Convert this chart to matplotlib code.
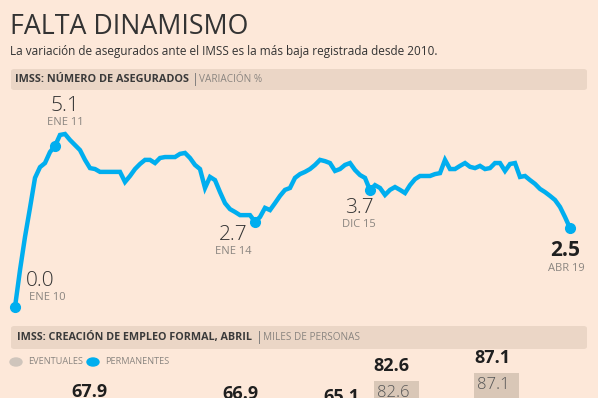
import numpy as np
import matplotlib.pyplot as plt
from matplotlib.patches import FancyBboxPatch

# variación anual de asegurados IMSS, ene 2010 - abr 2019 (%)
asegurados = [
    0.0, 1.17, 2.22, 3.14, 4.09, 4.43, 4.56, 4.91, 5.1, 5.45,
    5.48, 5.29, 5.13, 4.97, 4.66, 4.40, 4.37, 4.28, 4.28, 4.28,
    4.28, 4.28, 3.96, 4.15, 4.37, 4.53, 4.66, 4.66, 4.56, 4.72,
    4.75, 4.75, 4.75, 4.85, 4.88, 4.72, 4.50, 4.37, 3.77, 4.12,
    4.02, 3.64, 3.29, 3.10, 3.01, 2.91, 2.91, 2.91, 2.7, 2.85,
    3.14, 3.07, 3.29, 3.52, 3.71, 3.77, 4.09, 4.21, 4.28, 4.37,
    4.50, 4.66, 4.62, 4.56, 4.31, 4.37, 4.50, 4.56, 4.34, 4.18,
    4.09, 3.7, 3.86, 3.77, 3.55, 3.71, 3.80, 3.71, 3.61, 3.86,
    4.05, 4.15, 4.15, 4.15, 4.21, 4.24, 4.66, 4.37, 4.37, 4.47,
    4.56, 4.44, 4.40, 4.47, 4.37, 4.40, 4.56, 4.56, 4.31, 4.53,
    4.56, 4.12, 4.15, 4.02, 3.90, 3.74, 3.64, 3.52, 3.39, 3.17,
    2.85, 2.5,
]
# puntos destacados: indice, fecha
destacados_idx = [0, 8, 48, 71, 111]
destacados_fecha = ['ENE 10', 'ENE 11', 'ENE 14', 'DIC 15', 'ABR 19']

# creación de empleo formal en abril (miles), años ocultos por el recorte
anios = list(range(2010, 2020))
empleo_total = [67.9, np.nan, np.nan, 66.9, 59.9, 65.1, 82.6, np.nan, 87.1, np.nan]
eventuales_lbl = [None, None, None, None, None, None, 82.6, None, 87.1, None]

BG = '#fde8d9'
BAND = '#ebd6c6'
BLUE = '#00aeef'
GRAY_BAR = '#d9c7b7'
DARK = '#2b2b2b'
MID = '#8a8580'

W, H = 598, 398
plt.rcParams['font.family'] = ['Open Sans', 'DejaVu Sans']

fig = plt.figure(figsize=(W / 100, H / 100), dpi=100, facecolor=BG)


def fx(x):
    return x / W


def fy(y):
    return 1 - y / H


def band(y0, y1):
    p = FancyBboxPatch((fx(11), fy(y1)), fx(576), (y1 - y0) / H,
                       boxstyle='round,pad=0,rounding_size=0.006',
                       transform=fig.transFigure, facecolor=BAND,
                       edgecolor='none', zorder=0)
    fig.patches.append(p)


# titulo
fig.text(fx(10), fy(27), 'FALTA DINAMISMO', fontsize=19.3,
         color='#333333', va='center', ha='left')
fig.text(fx(10), fy(52), 'La variación de asegurados ante el IMSS es la más baja registrada desde 2010.',
         fontsize=8.5, color='#333333', va='center', ha='left')

# bandas
band(69, 90)
fig.text(fx(15), fy(79.5), 'IMSS: NÚMERO DE ASEGURADOS', fontsize=7.8,
         fontweight='bold', color='#3a3a3a', va='center')
fig.text(fx(192), fy(79.5), '|', fontsize=9, color='#777777', va='center')
fig.text(fx(199), fy(79.5), 'VARIACIÓN %', fontsize=7.2, color=MID, va='center')

band(326, 349)
fig.text(fx(17), fy(337.5), 'IMSS: CREACIÓN DE EMPLEO FORMAL, ABRIL', fontsize=7.75,
         fontweight='bold', color='#3a3a3a', va='center')
fig.text(fx(256), fy(337.5), '|', fontsize=9, color='#777777', va='center')
fig.text(fx(263), fy(337.5), 'MILES DE PERSONAS', fontsize=7.2, color=MID, va='center')

# grafica de linea
ax = fig.add_axes([0, fy(320), 1, (320 - 95) / H])
ax.set_facecolor('none')
meses = np.arange(len(asegurados))
ax.plot(meses, asegurados, color=BLUE, lw=3.2, solid_joinstyle='miter', zorder=2)
ax.plot(destacados_idx, [asegurados[i] for i in destacados_idx], 'o',
        color=BLUE, ms=7, zorder=3)
ax.set_xlim(-3, (W - 15) / 5)
ax.set_ylim((307 - 320) / 31.57, (307 - 95) / 31.57)
ax.axis('off')

# desplazamientos de etiquetas en pixeles (valor, fecha)
offs = [((25, 26), (32, 10)), ((10, 40), (10, 23)), ((-22, -13), (-22, -30)),
        ((-11, -18), (-11, -34)), ((-5, -22), (-4, -40))]
for k, i in enumerate(destacados_idx):
    v = asegurados[i]
    bold = k == len(destacados_idx) - 1
    ax.annotate(f'{v:.1f}', (i, v), xytext=offs[k][0], textcoords='offset pixels',
                ha='center', va='center', fontsize=15,
                fontweight='bold' if bold else 'light',
                color='#1f1f1f' if bold else '#333333')
    ax.annotate(destacados_fecha[k], (i, v), xytext=offs[k][1], textcoords='offset pixels',
                ha='center', va='center', fontsize=8, color=MID)

# leyenda de barras
fig.patches.append(plt.Circle((fx(16), fy(362)), 4 / H, transform=fig.transFigure,
                              color='#cfc5bc'))
fig.text(fx(28), fy(362), 'EVENTUALES', fontsize=6.6, color=MID, va='center')
fig.patches.append(plt.Circle((fx(93), fy(362)), 4 / H, transform=fig.transFigure,
                              color=BLUE))
fig.text(fx(105), fy(362), 'PERMANENTES', fontsize=6.6, color=MID, va='center')

# barras (la figura recorta la parte inferior)
axb = fig.add_axes([0, fy(528), 1, (528 - 340) / H])
axb.set_facecolor('none')
pos = np.arange(len(anios))
ancho = 45 / 50.35
axb.bar(pos, empleo_total, width=ancho, color=GRAY_BAR, zorder=1)
axb.set_xlim(-94 / 50.35, (W - 94) / 50.35)
axb.set_ylim(0, (528 - 340) / 1.78)
axb.axis('off')
for i, t in enumerate(empleo_total):
    if np.isnan(t):
        continue
    axb.annotate(f'{t:.1f}', (i - ancho / 2, t), xytext=(0, 6), textcoords='offset pixels',
                 ha='left', va='bottom', fontsize=13, fontweight='bold', color='#1f1f1f')
    if eventuales_lbl[i] is not None:
        axb.annotate(f'{eventuales_lbl[i]:.1f}', (i - ancho / 2, t), xytext=(3, -4),
                     textcoords='offset pixels', ha='left', va='top', fontsize=12,
                     fontweight='light', color='#555555')

fig.savefig('out.png', dpi=100, facecolor=BG)
